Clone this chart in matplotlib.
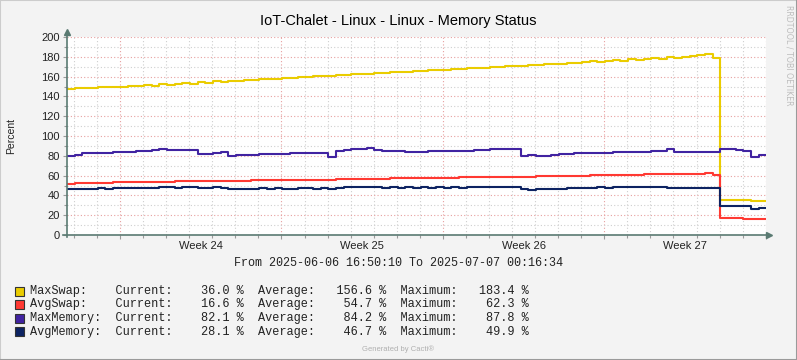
#!/usr/bin/env python3
"""Cacti / RRDtool style memory status graph for IoT-Chalet."""
import datetime as dt
import matplotlib
matplotlib.use("Agg")
import matplotlib.pyplot as plt
import matplotlib.dates as mdates
from matplotlib.ticker import MultipleLocator, NullFormatter
from matplotlib.patches import Rectangle
from matplotlib.lines import Line2D

START = dt.datetime(2025, 6, 6, 16, 50, 10)
END = dt.datetime(2025, 7, 7, 0, 16, 34)
STEP_HOURS = 8

# samples every 8 hours from START (values in percent)
max_swap = [147.5, 148.0, 148.5, 148.0, 149.5, 149.0, 150.0, 149.5, 150.5, 151.0,
            151.5, 151.0, 152.5, 152.0, 153.0, 153.5, 153.0, 154.5, 154.0, 155.5,
            155.0, 156.0, 155.5, 157.0, 156.5, 157.5, 158.0, 157.5, 159.0, 158.5,
            160.0, 159.5, 160.5, 161.0, 160.5, 162.0, 161.5, 162.5, 163.0, 162.5,
            164.0, 163.5, 164.5, 165.0, 164.5, 166.0, 165.5, 166.5, 167.0, 166.5,
            168.0, 167.5, 168.5, 169.0, 168.5, 170.0, 169.5, 170.5, 171.0, 170.5,
            172.0, 171.5, 172.5, 173.0, 172.5, 174.0, 173.5, 174.5, 175.5, 175.0,
            176.0, 176.5, 176.0, 177.5, 177.0, 178.0, 178.5, 178.0, 179.5, 179.0,
            180.0, 180.5, 181.5, 183.0, 178.5, 35.8, 35.8, 35.8, 35.8, 34.6,
            34.6]
avg_swap = [51.8, 52.5, 52.8, 52.8, 53.0, 53.0, 53.2, 53.2, 53.5, 53.5,
            53.5, 53.5, 54.0, 54.0, 54.2, 54.5, 54.5, 54.5, 54.5, 54.5,
            55.0, 55.0, 55.0, 55.0, 55.2, 55.2, 55.2, 55.5, 55.5, 55.5,
            55.6, 55.8, 56.0, 56.0, 56.0, 56.2, 56.5, 56.5, 56.8, 57.0,
            57.0, 57.0, 57.2, 57.3, 57.5, 57.5, 57.6, 57.6, 57.8, 57.8,
            58.0, 58.2, 58.3, 58.5, 58.5, 58.8, 58.8, 58.9, 59.0, 59.0,
            59.0, 59.2, 59.3, 59.5, 59.6, 59.8, 60.0, 60.0, 60.2, 60.5,
            60.5, 60.8, 61.0, 61.0, 61.0, 61.2, 61.2, 61.5, 61.5, 61.5,
            61.8, 62.0, 62.0, 62.3, 61.0, 16.8, 16.8, 16.8, 16.5, 15.8,
            15.8]
max_memory = [80.2, 81.0, 82.5, 82.8, 83.0, 83.2, 83.5, 83.8, 84.0, 84.5,
              85.0, 85.5, 86.5, 86.0, 85.5, 85.5, 85.5, 82.0, 82.0, 82.5,
              83.5, 79.5, 80.5, 80.8, 81.2, 81.5, 81.8, 82.0, 82.3, 82.8,
              83.0, 83.0, 83.0, 83.0, 79.0, 84.5, 86.0, 86.5, 87.0, 87.8,
              85.5, 85.2, 85.0, 84.5, 84.2, 84.0, 84.3, 84.5, 84.5, 84.8,
              84.8, 85.0, 85.3, 85.8, 86.0, 86.5, 86.8, 87.2, 86.5, 79.5,
              80.5, 79.5, 80.0, 80.8, 81.8, 82.3, 82.5, 82.8, 83.0, 83.0,
              83.2, 83.5, 83.8, 84.0, 84.2, 84.2, 84.5, 85.0, 86.5, 84.2,
              84.0, 83.8, 83.5, 83.5, 84.2, 86.5, 86.5, 86.2, 84.5, 78.5,
              80.8]
avg_memory = [46.0, 46.5, 46.0, 46.8, 47.0, 46.5, 47.2, 47.0, 47.5, 47.2,
              47.8, 47.5, 48.2, 48.0, 47.5, 48.0, 48.5, 47.8, 47.5, 48.0,
              47.2, 46.5, 46.8, 46.0, 46.5, 47.0, 46.5, 47.2, 46.8, 46.5,
              47.0, 47.5, 46.8, 47.5, 46.5, 47.5, 48.2, 48.5, 48.0, 48.8,
              48.2, 47.8, 48.5, 47.8, 48.2, 47.5, 48.0, 47.8, 48.5, 47.8,
              48.2, 47.5, 48.0, 48.5, 48.2, 48.8, 48.5, 48.8, 48.0, 46.8,
              45.8, 46.2, 46.5, 46.8, 46.5, 47.0, 47.2, 47.5, 47.8, 48.0,
              47.5, 48.2, 48.0, 48.5, 48.2, 48.8, 48.5, 48.2, 47.8, 47.5,
              47.2, 47.5, 47.0, 47.5, 47.8, 29.0, 29.0, 29.0, 28.8, 26.6,
              26.8]

names = ["MaxSwap:", "AvgSwap:", "MaxMemory:", "AvgMemory:"]
colors = ["#EACC00", "#FF3932", "#4123A1", "#0D2362"]
current = [36.0, 16.6, 82.1, 28.1]
average = [156.6, 54.7, 84.2, 46.7]
maximum = [183.4, 62.3, 87.8, 49.9]

W, H = 797, 360
fig = plt.figure(figsize=(W / 100, H / 100), dpi=100, facecolor="#F3F3F3")
ax = fig.add_axes([67 / W, 1 - 235 / H, 699 / W, 198 / H])
ax.set_facecolor("white")

times = [START + dt.timedelta(hours=STEP_HOURS * i) for i in range(len(max_swap))] + [END]
for series, c in zip([max_swap, avg_swap, max_memory, avg_memory], colors):
    ax.step(times, series + series[-1:], where="post", color=c, lw=1.5, zorder=3)

ax.set_xlim(START, END)
ax.set_ylim(0, 200)

# grid: gray dotted minor, reddish dotted major
ax.xaxis.set_major_locator(mdates.WeekdayLocator(byweekday=mdates.MO))
ax.xaxis.set_minor_locator(mdates.DayLocator())
ax.xaxis.set_major_formatter(NullFormatter())
ax.yaxis.set_major_locator(MultipleLocator(20))
ax.yaxis.set_minor_locator(MultipleLocator(10))
ax.grid(which="minor", color="#cfcfcf", ls=(0, (1, 2)), lw=0.8, zorder=1)
ax.grid(which="major", color="#e7a0a0", ls=(0, (1, 2)), lw=0.8, zorder=1)
ax.set_axisbelow(True)
ax.tick_params(which="both", direction="out", color="#9a9a9a", width=0.8)
ax.tick_params(which="major", length=3)
ax.tick_params(which="minor", length=2)
ax.tick_params(axis="y", labelsize=8, pad=2, labelcolor="#222222")
for lbl in ax.get_yticklabels():
    lbl.set_fontfamily("Liberation Sans")
for s in ax.spines.values():
    s.set_visible(False)

# axes with arrow heads, rrdtool style
axcol = "#5a7a72"
ax.plot([0, 0], [-0.012, 1.02], transform=ax.transAxes, color=axcol, lw=1.2, clip_on=False, zorder=5)
ax.plot([-0.006, 1.0], [0, 0], transform=ax.transAxes, color=axcol, lw=1.2, clip_on=False, zorder=5)
ax.plot([0], [1.025], marker="^", ms=4, color=axcol, transform=ax.transAxes, clip_on=False, zorder=5)
ax.plot([1.004], [0], marker=">", ms=4, color=axcol, transform=ax.transAxes, clip_on=False, zorder=5)

# week labels centred in each week
monday = START - dt.timedelta(days=START.weekday())
monday = dt.datetime(monday.year, monday.month, monday.day)
while monday < END:
    mid = monday + dt.timedelta(days=3.5)
    if START <= mid <= END:
        ax.text(mid, -0.028, mid.strftime("Week %V"), transform=ax.get_xaxis_transform(),
                ha="center", va="top", fontsize=8, family="Liberation Sans", color="#222222")
    monday += dt.timedelta(days=7)

ax.set_ylabel("Percent", fontsize=7.5, family="Liberation Sans", color="#222222", labelpad=18)

fig.text(398 / W, 1 - 21 / H, "IoT-Chalet - Linux - Linux - Memory Status",
         ha="center", va="center", fontsize=10.5, family="Liberation Sans", color="black")
fig.text(789 / W, 1 - 5 / H, "RRDTOOL / TOBI OETIKER", rotation=-90, ha="center", va="top",
         fontsize=5.7, family="DejaVu Sans", color="#bdbdbd")

mono = "Liberation Mono"
fig.text(398 / W, 1 - 263 / H,
         f"From {START:%Y-%m-%d %H:%M:%S} To {END:%Y-%m-%d %H:%M:%S}",
         ha="center", va="center", fontsize=8.5, family=mono, color="#222222")

for i, (n, c, cur, avg, mx) in enumerate(zip(names, colors, current, average, maximum)):
    yp = 291 + 13.5 * i
    fig.add_artist(Rectangle((15 / W, 1 - (yp + 4.5) / H), 9 / W, 9 / H, transform=fig.transFigure,
                             facecolor=c, edgecolor="#333333", lw=0.8))
    row = f"{n:<12}Current:{cur:8.1f} %  Average:{avg:8.1f} %  Maximum:{mx:8.1f} %"
    fig.text(30 / W, 1 - yp / H, row, ha="left", va="center", fontsize=8.6, family=mono, color="#222222")

fig.text(398 / W, 1 - 349 / H, "Generated by Cacti\u00ae", ha="center", va="center",
         fontsize=5.5, family="Liberation Sans", color="#b0b0b0")

# image frame
fig.add_artist(Line2D([0, 1], [1, 1], transform=fig.transFigure, color="#cccccc", lw=1.5))
fig.add_artist(Line2D([0, 0], [0, 1], transform=fig.transFigure, color="#cccccc", lw=1.5))
fig.add_artist(Line2D([0, 1], [0, 0], transform=fig.transFigure, color="#9a9a9a", lw=1.5))
fig.add_artist(Line2D([1, 1], [0, 1], transform=fig.transFigure, color="#9a9a9a", lw=1.5))

fig.savefig("out.png", dpi=100, facecolor=fig.get_facecolor())
